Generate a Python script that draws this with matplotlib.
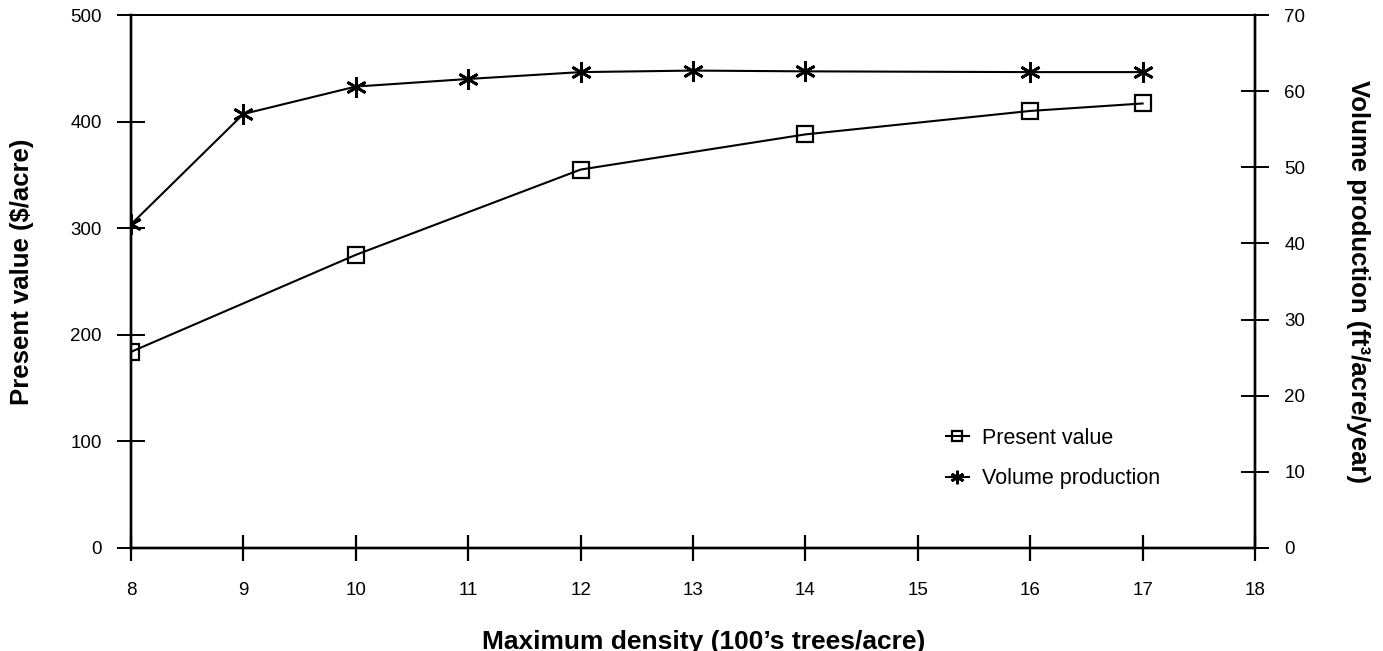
import matplotlib
matplotlib.use("Agg")
import matplotlib.pyplot as plt

# Data
density_pv = [8, 10, 12, 14, 16, 17]
present_value = [184, 275, 355, 388, 410, 417]
density_vol = [8, 9, 10, 11, 12, 13, 14, 16, 17]
volume_prod = [42.5, 57.0, 60.6, 61.6, 62.5, 62.7, 62.6, 62.5, 62.5]
x_ticks = [8, 9, 10, 11, 12, 13, 14, 15, 16, 17, 18]
left_ticks = [0, 100, 200, 300, 400, 500]
right_ticks = [0, 10, 20, 30, 40, 50, 60, 70]

plt.rcParams['font.family'] = ['Liberation Sans', 'DejaVu Sans']

fig = plt.figure(figsize=(13.83, 6.51), dpi=100)
ax = fig.add_axes([131/1383, 1-548/651, (1255-131)/1383, (548-15)/651])
ax2 = ax.twinx()

l1, = ax.plot(density_pv, present_value, color='black', lw=1.5,
              marker='s', ms=11, mfc='none', mec='black', mew=1.6,
              label='Present value', zorder=3)
l2, = ax2.plot(density_vol, volume_prod, color='black', lw=1.5,
               marker=(6, 2, 0), ms=15, mec='black', mew=2.0,
               label='Volume production', zorder=3)

ax.set_xlim(8, 18)
ax.set_ylim(0, 500)
ax2.set_ylim(0, 70)
ax.set_xticks(x_ticks)
ax.set_yticks(left_ticks)
ax2.set_yticks(right_ticks)

for a in (ax, ax2):
    for s in a.spines.values():
        s.set_linewidth(1.7)
    a.spines['top'].set_linewidth(1.3)

ax.tick_params(axis='x', direction='inout', length=19, width=1.6, pad=15, labelsize=13.5)
ax.tick_params(axis='y', direction='inout', length=20, width=1.4, pad=11, labelsize=13.5)
ax2.tick_params(axis='y', direction='inout', length=20, width=1.4, pad=11, labelsize=13.5)

ax.set_xlabel("Maximum density (100’s trees/acre)", fontsize=19, fontweight='bold', labelpad=22)
ax.xaxis.label.set_x((704-131)/1124)
ax.set_ylabel("Present value ($/acre)", fontsize=18.5, fontweight='bold', labelpad=26)
ax.yaxis.label.set_y((548-272)/533)
ax2.set_ylabel("Volume production (ft³/acre/year)", fontsize=18.5, fontweight='bold',
               rotation=270, labelpad=47)

leg = ax.legend(handles=[l1, l2], loc='upper left',
                bbox_to_anchor=(946/1383, 1-428/651), bbox_transform=fig.transFigure,
                frameon=False, fontsize=15.5, handlelength=1.05, handletextpad=0.6,
                labelspacing=0.9, borderpad=0, borderaxespad=0, markerscale=0.65)

fig.savefig("out.png", dpi=100)
